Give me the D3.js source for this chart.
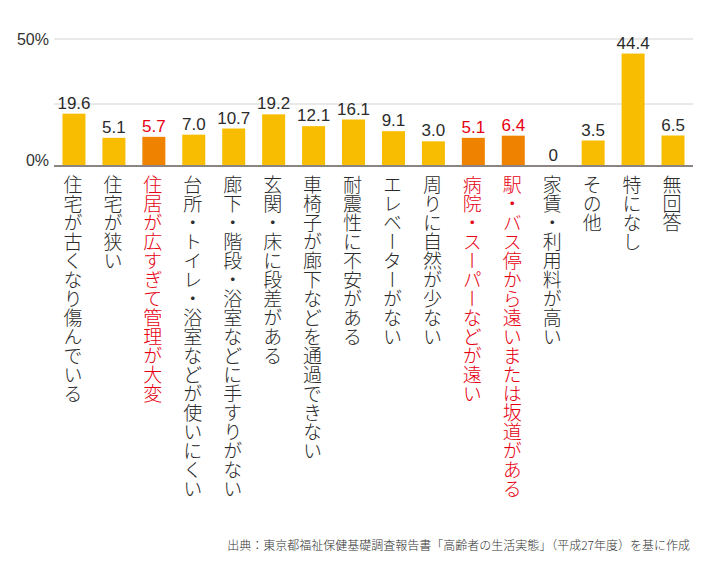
<!DOCTYPE html>
<html><head><meta charset="utf-8">
<script src="https://cdn.jsdelivr.net/npm/d3@7"></script>
<style>
html,body{margin:0;padding:0;background:#fff;}
svg{display:block;}
</style></head>
<body>
<svg id="chart" width="710" height="584"></svg>
<script>
const categories = [
  "住宅が古くなり傷んでいる",
  "住宅が狭い",
  "住居が広すぎて管理が大変",
  "台所・トイレ・浴室などが使いにくい",
  "廊下・階段・浴室などに手すりがない",
  "玄関・床に段差がある",
  "車椅子が廊下などを通過できない",
  "耐震性に不安がある",
  "エレベーターがない",
  "周りに自然が少ない",
  "病院・スーパーなどが遠い",
  "駅・バス停から遠いまたは坂道がある",
  "家賃・利用料が高い",
  "その他",
  "特になし",
  "無回答"
];
const values = [19.6, 5.1, 5.7, 7.0, 10.7, 19.2, 12.1, 16.1, 9.1, 3.0, 5.1, 6.4, 0, 3.5, 44.4, 6.5];
const valueLabels = ["19.6","5.1","5.7","7.0","10.7","19.2","12.1","16.1","9.1","3.0","5.1","6.4","0","3.5","44.4","6.5"];
const highlighted = [false,false,true,false,false,false,false,false,false,false,true,true,false,false,false,false];
const gridValues = [25, 50];
const tickLabels = [{v:50, t:"50%"}, {v:0, t:"0%"}];
const sourceText = "出典：東京都福祉保健基礎調査報告書「高齢者の生活実態」（平成27年度）を基に作成";

const svg = d3.select("#chart");
const x = d3.scaleBand().domain(d3.range(categories.length)).range([54, 693]).paddingInner(0.42).paddingOuter(0.21);
const y = d3.scaleLinear().domain([0, 2, 20, 25, 50]).range([166, 143, 113, 104, 39]);

const YELLOW = "#F8BD00", ORANGE = "#EF8300", RED = "#E60012", TEXT = "#2b2b2b";
const numFont = "'Liberation Sans', Arial, sans-serif";
const jpFont = "'Noto Sans CJK JP', 'Noto Sans', sans-serif";

// gridlines
svg.append("g").selectAll("line").data(gridValues).join("line")
  .attr("x1", 54).attr("x2", 693)
  .attr("y1", d => y(d)).attr("y2", d => y(d))
  .attr("stroke", "#d4d4d4").attr("stroke-width", 1);

// bars
const bw = 23;
svg.append("g").selectAll("rect").data(values).join("rect")
  .attr("x", (d,i) => x(i) + x.bandwidth()/2 - bw/2)
  .attr("width", bw)
  .attr("y", d => y(d))
  .attr("height", d => y(0) - y(d))
  .attr("fill", (d,i) => highlighted[i] ? ORANGE : YELLOW);

// baseline
svg.append("line").attr("x1", 54).attr("x2", 693)
  .attr("y1", y(0)).attr("y2", y(0))
  .attr("stroke", "#8a8582").attr("stroke-width", 2);

// value labels
svg.append("g").selectAll("text").data(values).join("text")
  .attr("x", (d,i) => x(i) + x.bandwidth()/2)
  .attr("y", d => y(d) - 5)
  .attr("text-anchor", "middle")
  .attr("font-family", numFont)
  .attr("font-size", 17)
  .attr("fill", (d,i) => highlighted[i] ? RED : TEXT)
  .text((d,i) => valueLabels[i]);

// y tick labels
svg.append("g").selectAll("text").data(tickLabels).join("text")
  .attr("x", 49)
  .attr("y", d => d.v === 0 ? y(0) : y(d.v) + 6)
  .attr("text-anchor", "end")
  .attr("font-family", numFont)
  .attr("font-size", 16)
  .attr("fill", "#333")
  .text(d => d.t);

// category labels (vertical)
svg.append("g").selectAll("text").data(categories).join("text")
  .attr("x", (d,i) => x(i) + x.bandwidth()/2 - 1)
  .attr("y", 175)
  .attr("font-family", jpFont)
  .attr("font-size", 19)
  .attr("font-weight", 300)
  .style("writing-mode", "vertical-rl")
  .attr("fill", (d,i) => highlighted[i] ? RED : TEXT)
  .text(d => d);

// source
svg.append("text")
  .attr("x", 690).attr("y", 550)
  .attr("text-anchor", "end")
  .attr("font-family", jpFont)
  .attr("font-size", 12)
  .attr("font-weight", 300)
  .attr("fill", "#333")
  .text(sourceText);
</script>
</body></html>
